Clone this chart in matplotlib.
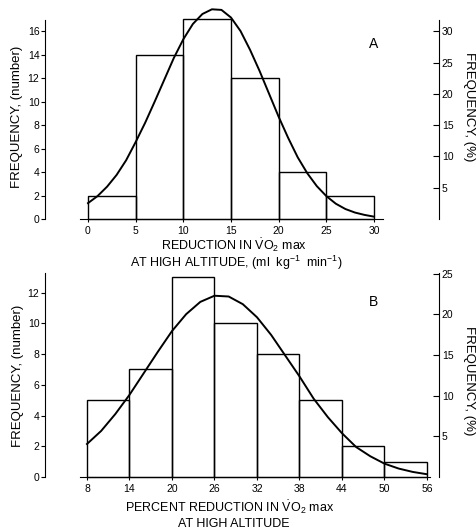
import matplotlib.pyplot as plt
import numpy as np

plt.rcParams['font.family'] = ['Liberation Sans', 'DejaVu Sans']
plt.rcParams['mathtext.fontset'] = 'custom'
plt.rcParams['mathtext.rm'] = 'Liberation Sans'
plt.rcParams['mathtext.it'] = 'Liberation Sans:italic'

# Panel A: reduction in VO2 max (ml/kg/min)
bins_a = [0, 5, 10, 15, 20, 25, 30]
counts_a = [2, 14, 17, 12, 4, 2]
curve_a_x = list(range(0, 31))
curve_a_y = [1.35, 1.95, 2.75, 3.75, 5.0, 6.55, 8.2, 10.0, 11.85, 13.7, 15.3,
             16.6, 17.45, 17.85, 17.8, 17.15, 16.0, 14.4, 12.6, 10.65, 8.7,
             6.9, 5.25, 3.9, 2.8, 1.95, 1.3, 0.85, 0.55, 0.35, 0.2]
ticks_a = [0, 5, 10, 15, 20, 25, 30]
pct_ticks_a = [5, 10, 15, 20, 25, 30]

# Panel B: percent reduction in VO2 max
bins_b = [8, 14, 20, 26, 32, 38, 44, 50, 56]
counts_b = [5, 7, 13, 10, 8, 5, 2, 1]
curve_b_x = list(range(8, 57, 2))
curve_b_y = [2.15, 3.0, 4.1, 5.35, 6.75, 8.15, 9.5, 10.6, 11.4, 11.8, 11.75,
             11.25, 10.4, 9.25, 7.9, 6.55, 5.1, 3.9, 2.85, 1.95, 1.35, 0.87,
             0.55, 0.33, 0.18]
ticks_b = [8, 14, 20, 26, 32, 38, 44, 50, 56]
pct_ticks_b = [5, 10, 15, 20, 25]

W, H = 477, 532
fig = plt.figure(figsize=(W / 100, H / 100), dpi=100)


def px_axes(l, t, r, b):
    return fig.add_axes([l / W, 1 - b / H, (r - l) / W, (b - t) / H])


def draw_panel(ax, bins, counts, cx, cy, xlim, ylim, base, xticks,
               pct_lim, pct_ticks, letter, letter_y):
    bars = ax.bar(bins[:-1], counts, width=np.diff(bins), align='edge',
                  fill=False, edgecolor='black', linewidth=1.0)
    for b in bars:
        b.set_clip_on(False)
    ax.plot(cx, cy, color='black', linewidth=1.4, clip_on=False)
    ax.set_xlim(*xlim)
    ax.set_ylim(*ylim)
    ax.set_xticks(xticks)
    ax.set_xticklabels([str(t) for t in xticks])
    for s in ['top', 'right']:
        ax.spines[s].set_visible(False)
    ax.spines['bottom'].set_bounds(*base)
    ax.spines['left'].set_bounds(0, ylim[1])
    ax.tick_params(axis='x', length=2, pad=3, labelsize=7.5, width=0.8)
    ax.tick_params(axis='y', length=3, pad=1, labelsize=7.5, width=0.8)

    tw = ax.twinx()
    tw.set_ylim(*pct_lim)
    tw.set_yticks(pct_ticks)
    for s in ['top', 'left', 'bottom']:
        tw.spines[s].set_visible(False)
    tw.tick_params(axis='y', direction='in', length=4, pad=2, labelsize=7.5,
                   width=0.8)
    ax.text(0.835, letter_y, letter, transform=ax.transAxes, fontsize=10,
            ha='center', va='center')


ax_a = px_axes(45, 20, 439, 219)
draw_panel(ax_a, bins_a, counts_a, curve_a_x, curve_a_y, (-4.51, 36.82),
           (0, 16.94), (-0.85, 30.9), ticks_a, (0, 31.8), pct_ticks_a, 'A',
           0.88)

ax_b = px_axes(45, 273, 439, 477)
draw_panel(ax_b, bins_b, counts_b, curve_b_x, curve_b_y, (2.07, 57.7),
           (0, 13.28), (7.0, 56.45), ticks_b, (0, 25.1), pct_ticks_b, 'B',
           0.86)


def ftext(x, y, s, **kw):
    fig.text(x / W, 1 - y / H, s, ha='center', va='center', **kw)


ftext(234, 245, r'REDUCTION IN $\dot{\mathrm{V}}\mathrm{O}_2$ max', fontsize=9)
ftext(236, 263, r'AT HIGH ALTITUDE, (ml  kg$^{-1}$  min$^{-1}$)', fontsize=9)
ftext(230, 507, r'PERCENT REDUCTION IN $\dot{\mathrm{V}}\mathrm{O}_2$ max',
      fontsize=9)
ftext(234, 524, 'AT HIGH ALTITUDE', fontsize=9)

ftext(17, 117, 'FREQUENCY, (number)', fontsize=9.5, rotation=90)
ftext(18, 376, 'FREQUENCY, (number)', fontsize=9.5, rotation=90)
ftext(469, 107, 'FREQUENCY, (%)', fontsize=9.5, rotation=-90)
ftext(469, 381, 'FREQUENCY, (%)', fontsize=9.5, rotation=-90)

fig.savefig('out.png', dpi=100)
plt.close()
